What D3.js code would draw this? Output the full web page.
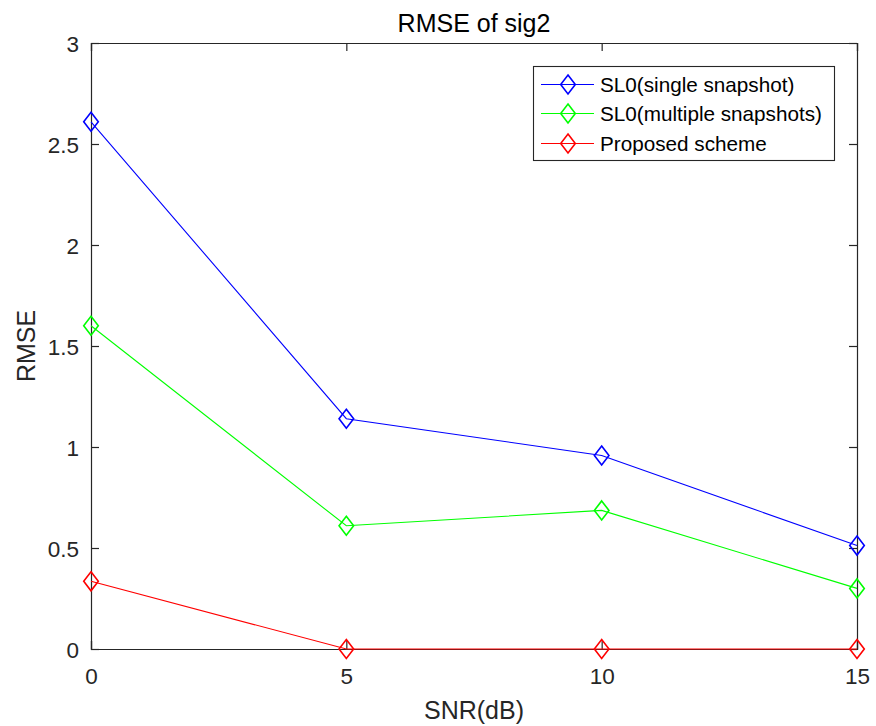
<!DOCTYPE html>
<html>
<head>
<meta charset="utf-8">
<script src="https://cdn.jsdelivr.net/npm/d3@7"></script>
<style>
  html, body { margin: 0; padding: 0; background: #fff; }
  svg { display: block; font-family: "Liberation Sans", Arial, Helvetica, sans-serif; }
</style>
</head>
<body>
<svg id="chart" width="876" height="726"></svg>
<script>
// SNR levels (dB) on the x axis
const snr = [0, 5, 10, 15];
// RMSE per method
const sl0Single   = [2.61, 1.14, 0.958, 0.512];
const sl0Multiple = [1.60, 0.61, 0.686, 0.30];
const proposed    = [0.335, 0, 0, 0];
const seriesNames = ["SL0(single snapshot)", "SL0(multiple snapshots)", "Proposed scheme"];
const seriesColors = ["#0000ff", "#00ff00", "#ff0000"];
const xTicks = [0, 5, 10, 15];
const yTicks = [0, 0.5, 1, 1.5, 2, 2.5, 3];

const series = [sl0Single, sl0Multiple, proposed].map((vals, i) => ({
  name: seriesNames[i], color: seriesColors[i],
  points: snr.map((s, j) => ({ x: s, y: vals[j] }))
}));

const svg = d3.select("#chart");
const m = { left: 91, right: 857, top: 43, bottom: 649 };
const axisColor = "#262626";

const x = d3.scaleLinear().domain([0, 15]).range([m.left, m.right]);
const y = d3.scaleLinear().domain([0, 3]).range([m.bottom, m.top]);

const tickLen = 8;
const tickFont = 22.5;

// bottom axis (ticks drawn inward)
const gx = svg.append("g").attr("transform", `translate(0,${m.bottom})`)
  .call(d3.axisBottom(x).tickValues(xTicks).tickSize(-tickLen).tickPadding(19).tickFormat(d3.format("d")));
// top axis mirror
const gxt = svg.append("g").attr("transform", `translate(0,${m.top})`)
  .call(d3.axisTop(x).tickValues(xTicks).tickSize(-tickLen).tickFormat(""));
// left axis
const gy = svg.append("g").attr("transform", `translate(${m.left},0)`)
  .call(d3.axisLeft(y).tickValues(yTicks).tickSize(-tickLen).tickPadding(12).tickFormat(d => d3.format("")(d)));
// right axis mirror
const gyr = svg.append("g").attr("transform", `translate(${m.right},0)`)
  .call(d3.axisRight(y).tickValues(yTicks).tickSize(-tickLen).tickFormat(""));

[gx, gxt, gy, gyr].forEach(g => {
  g.select(".domain").attr("stroke", axisColor).attr("stroke-width", 1.2);
  g.selectAll(".tick line").attr("stroke", axisColor).attr("stroke-width", 1.2);
  g.selectAll(".tick text").attr("fill", axisColor)
    .style("font-family", "'Liberation Sans', Arial, sans-serif").style("font-size", tickFont + "px");
});
gx.selectAll(".tick text").attr("dy", "0.71em");
gy.selectAll(".tick text").attr("dy", "0.36em");

const line = d3.line().x(d => x(d.x)).y(d => y(d.y));
const diamond = (cx, cy) => {
  const hw = 7.3, hh = 9.5;
  return `M${cx},${cy - hh}L${cx + hw},${cy}L${cx},${cy + hh}L${cx - hw},${cy}Z`;
};

const plot = svg.append("g");
series.forEach(s => {
  plot.append("path").datum(s.points)
    .attr("d", line).attr("fill", "none")
    .attr("stroke", s.color).attr("stroke-width", 1.1);
  plot.selectAll(null).data(s.points).enter().append("path")
    .attr("d", d => diamond(x(d.x), y(d.y)))
    .attr("fill", "none").attr("stroke", s.color).attr("stroke-width", 1.6);
});

// title and axis labels
const labelFont = 25;
svg.append("text").attr("x", (m.left + m.right) / 2).attr("y", 32)
  .attr("text-anchor", "middle").attr("fill", "#000").style("font-size", labelFont + "px")
  .text("RMSE of sig2");
svg.append("text").attr("x", (m.left + m.right) / 2).attr("y", 719)
  .attr("text-anchor", "middle").attr("fill", axisColor).style("font-size", labelFont + "px")
  .text("SNR(dB)");
svg.append("text").attr("transform", `translate(35,${(m.top + m.bottom) / 2}) rotate(-90)`)
  .attr("text-anchor", "middle").attr("fill", axisColor).style("font-size", labelFont + "px")
  .text("RMSE");

// legend
const lg = { x0: 533.5, y0: 66.5, x1: 834.5, y1: 160.5 };
const leg = svg.append("g");
leg.append("rect").attr("x", lg.x0).attr("y", lg.y0)
  .attr("width", lg.x1 - lg.x0).attr("height", lg.y1 - lg.y0)
  .attr("fill", "#fff").attr("stroke", axisColor).attr("stroke-width", 1.1);
const rowY = [84.5, 113.5, 143.5];
series.forEach((s, i) => {
  const ry = rowY[i];
  leg.append("line").attr("x1", 541).attr("x2", 594).attr("y1", ry).attr("y2", ry)
    .attr("stroke", s.color).attr("stroke-width", 1.1);
  leg.append("path").attr("d", diamond(568, ry)).attr("fill", "none")
    .attr("stroke", s.color).attr("stroke-width", 1.6);
  leg.append("text").attr("x", 600).attr("y", ry).attr("dy", "0.36em")
    .attr("fill", "#000").style("font-size", "20.7px").text(s.name);
});
</script>
</body>
</html>
